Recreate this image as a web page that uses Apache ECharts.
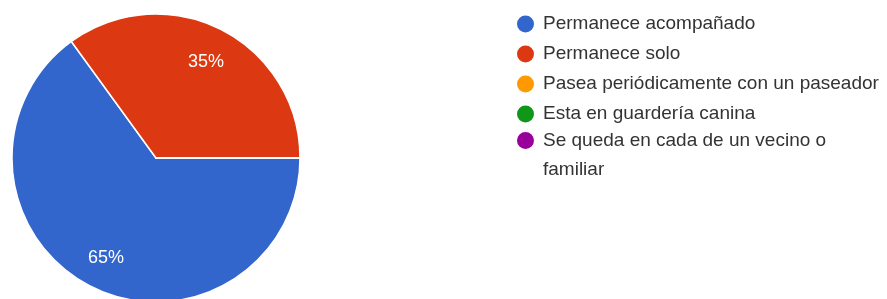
<!DOCTYPE html>
<html>
<head>
<meta charset="utf-8">
<script src="https://cdn.jsdelivr.net/npm/echarts@6/dist/echarts.min.js"></script>
<style>
    html, body { margin: 0; padding: 0; background: #fff; }
    #main { width: 887px; height: 299px; }
</style>
</head>
<body>
<div id="main"></div>
<script>
// respuestas (porcentaje)
var categories = [
    'Permanece acompañado',
    'Permanece solo',
    'Pasea periódicamente con un paseador',
    'Esta en guardería canina',
    'Se queda en cada de un vecino o familiar'
];
var values = [65, 35, 0, 0, 0];
var colors = ['#3366cc', '#dc3912', '#ff9900', '#109618', '#990099'];

var fontName = '"Liberation Sans", Arial, sans-serif';

function build_data(list, vals) {
    var out = [];
    for (var i = 0; i < list.length; i++) {
        out.push({ name: list[i], value: vals[i] });
    }
    return out;
}

var myChart = echarts.init(document.getElementById('main'));

var lastName = categories[categories.length - 1];

var option = {
    animation: false,
    color: colors,
    legend: [
        {
            orient: 'vertical',
            left: 515,
            top: 13,
            padding: 0,
            icon: 'circle',
            itemWidth: 19,
            itemHeight: 19,
            itemGap: 8,
            selectedMode: false,
            data: categories.slice(0, categories.length - 1),
            textStyle: {
                fontFamily: fontName,
                fontSize: 19,
                lineHeight: 22,
                color: '#333',
                padding: [0, 0, 0, 3]
            }
        },
        {
            // ultimo elemento en dos lineas, la primera alineada con el icono
            orient: 'vertical',
            left: 515,
            top: 97,
            padding: 0,
            icon: 'circle',
            itemWidth: 19,
            itemHeight: 19,
            selectedMode: false,
            data: [lastName],
            formatter: function (name) {
                return ' \nSe queda en cada de un vecino o\nfamiliar';
            },
            textStyle: {
                fontFamily: fontName,
                fontSize: 19,
                lineHeight: 29,
                color: '#333',
                padding: [0, 0, 0, 3]
            }
        }
    ],
    series: [
        {
            name: 'main',
            type: 'pie',
            center: [156, 158],
            radius: [0, 144],
            startAngle: 0,
            clockwise: true,
            silent: true,
            label: { show: false },
            labelLine: { show: false },
            itemStyle: { borderColor: '#fff', borderWidth: 1.5 },
            data: build_data(categories, values)
        },
        {
            name: 'labels',
            type: 'pie',
            center: [156, 160],
            radius: [70, 144],
            startAngle: 0,
            clockwise: true,
            silent: true,
            percentPrecision: 0,
            avoidLabelOverlap: false,
            itemStyle: { color: 'rgba(0,0,0,0)' },
            label: {
                show: true,
                position: 'inside',
                color: '#fff',
                fontFamily: fontName,
                fontSize: 18,
                formatter: function (p) {
                    return p.value > 0 ? p.percent + '%' : '';
                }
            },
            labelLine: { show: false },
            data: build_data(categories, values)
        }
    ]
};

myChart.setOption(option);
</script>
</body>
</html>
